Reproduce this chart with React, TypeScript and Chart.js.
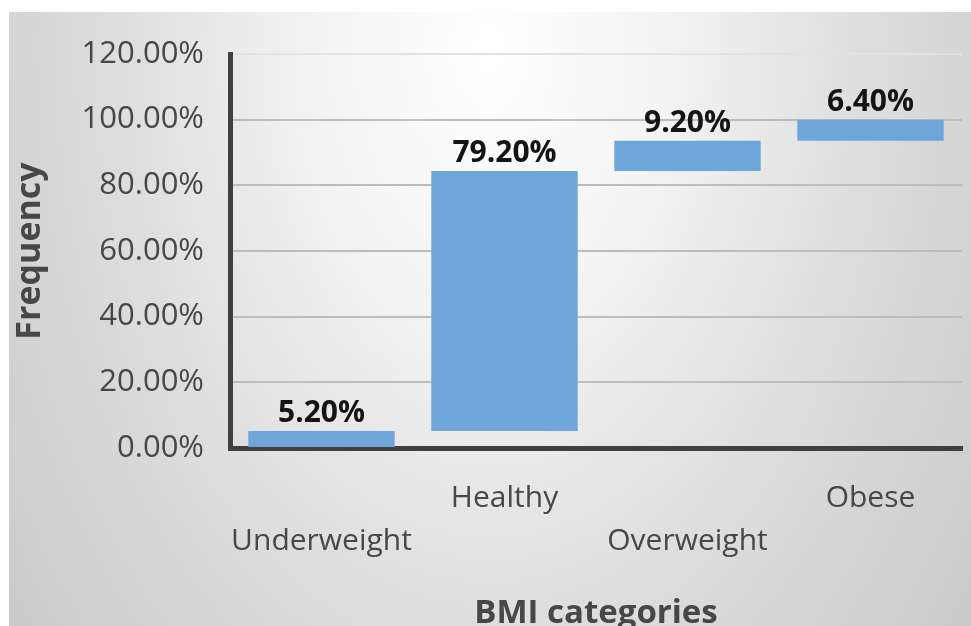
import React, { useEffect, useRef } from "react";
import { Chart, registerables } from "chart.js";

Chart.register(...registerables);

// BMI category shares (percent of sample)
const categories: string[] = ["Underweight", "Healthy", "Overweight", "Obese"];
const shares: number[] = [5.2, 79.2, 9.2, 6.4];
const yTicks: number[] = [0, 20, 40, 60, 80, 100, 120];

const BAR_COLOR = "rgb(110,166,218)";
const AXIS_COLOR = "#404040";
const TEXT_COLOR = "#474747";
const FONT = "'Open Sans', 'DejaVu Sans', sans-serif";

// Waterfall: each bar floats from the running total to running total + value
function floatingBars(values: number[]): [number, number][] {
  const out: [number, number][] = [];
  let run = 0;
  for (const v of values) {
    out.push([run, run + v]);
    run += v;
  }
  return out;
}

const valueLabels = {
  id: "valueLabels",
  afterDatasetsDraw(chart: any) {
    const { ctx } = chart;
    const meta = chart.getDatasetMeta(0);
    ctx.save();
    ctx.font = `bold 30px ${FONT}`;
    ctx.fillStyle = "#141414";
    ctx.textAlign = "center";
    ctx.textBaseline = "alphabetic";
    meta.data.forEach((bar: any, i: number) => {
      const top = Math.min(bar.y, bar.base);
      ctx.fillText(shares[i].toFixed(2) + "%", bar.x, top - 9);
    });
    ctx.restore();
  },
};

export default function App() {
  const canvasRef = useRef<HTMLCanvasElement | null>(null);

  useEffect(() => {
    if (!canvasRef.current) return;
    const chart = new Chart(canvasRef.current, {
      type: "bar",
      data: {
        labels: categories,
        datasets: [
          {
            data: floatingBars(shares) as any,
            backgroundColor: BAR_COLOR,
            borderWidth: 0,
            barPercentage: 0.8,
            categoryPercentage: 1,
          },
        ],
      },
      options: {
        responsive: false,
        animation: false,
        events: [],
        layout: { padding: { top: 54, right: 9, left: 0, bottom: 0 } },
        plugins: {
          legend: { display: false },
          tooltip: { enabled: false },
        },
        scales: {
          x: {
            offset: true,
            grid: { display: false, drawTicks: false },
            border: { display: true, color: AXIS_COLOR, width: 5 },
            ticks: {
              autoSkip: false,
              maxRotation: 0,
              minRotation: 0,
              padding: 29,
              color: TEXT_COLOR,
              font: { family: FONT, size: 30, lineHeight: "43px" },
              callback: (_v: any, i: number) =>
                i % 2 === 0 ? ["", categories[i]] : [categories[i]],
            },
            title: {
              display: true,
              text: "BMI categories",
              color: TEXT_COLOR,
              font: { family: FONT, size: 33, weight: "bold" },
              padding: { top: 0, bottom: -7 },
            },
            afterFit: (s: any) => {
              s.height = 178;
            },
          },
          y: {
            min: 0,
            max: 120,
            afterBuildTicks: (s: any) => {
              s.ticks = yTicks.map((v) => ({ value: v }));
            },
            grid: {
              drawTicks: false,
              lineWidth: 2,
              color: (c: any) =>
                c.tick && c.tick.value === 120 ? "#e2e2e2" : "#bdbdbd",
            },
            border: { display: true, color: AXIS_COLOR, width: 5 },
            ticks: {
              padding: 26,
              color: TEXT_COLOR,
              font: { family: FONT, size: 31 },
              callback: (v: any) => Number(v).toFixed(2) + "%",
            },
            title: {
              display: true,
              text: "Frequency",
              color: TEXT_COLOR,
              font: { family: FONT, size: 34, weight: "bold" },
              padding: { top: 10, bottom: 0 },
            },
            afterFit: (s: any) => {
              s.width = 230;
            },
          },
        },
      },
      plugins: [valueLabels],
    });
    return () => chart.destroy();
  }, []);

  return (
    <div
      style={{
        position: "absolute",
        left: 0,
        top: 0,
        width: 971,
        height: 626,
        overflow: "hidden",
        background: "#ffffff",
      }}
    >
      <div
        style={{
          position: "absolute",
          left: 9,
          top: 12,
          right: 0,
          bottom: 0,
          background:
            "radial-gradient(ellipse 62% 150% at 50% 6%, #ffffff 0%, #f3f3f3 30%, #dedede 62%, #cbcbcb 100%)",
        }}
      />
      <canvas
        ref={canvasRef}
        width={971}
        height={626}
        style={{ position: "absolute", left: 0, top: 0 }}
      />
    </div>
  );
}
